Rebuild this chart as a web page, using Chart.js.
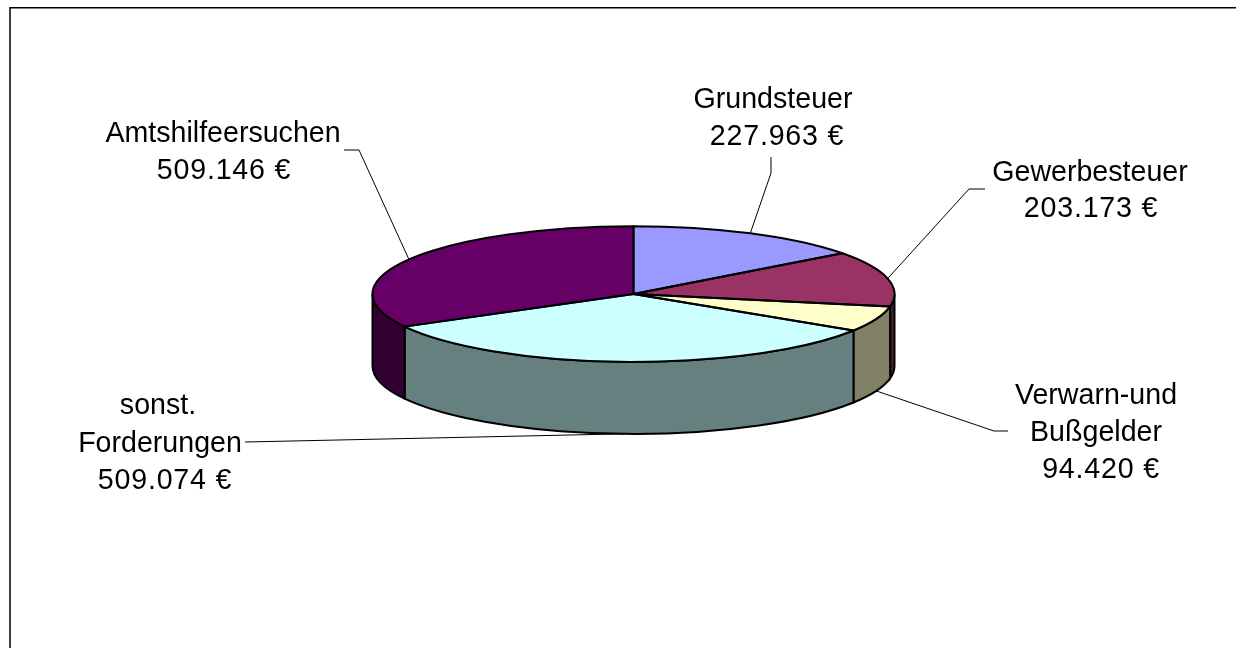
<!DOCTYPE html>
<html lang="de">
<head>
<meta charset="utf-8">
<title>Forderungen</title>
<script src="https://cdn.jsdelivr.net/npm/chart.js@4"></script>
<style>
  html, body { margin: 0; padding: 0; background: #fff; overflow: hidden; }
  canvas { display: block; }
</style>
</head>
<body>
<canvas id="pieChart" width="1236" height="648"></canvas>
<script>
const categories = ['Grundsteuer', 'Gewerbesteuer', 'Verwarn-und Bußgelder', 'sonst. Forderungen', 'Amtshilfeersuchen'];
const amounts = [227963, 203173, 94420, 509074, 509146];
const topColors = ['#9999ff', '#993366', '#ffffcc', '#ccffff', '#660066'];
const sideColors = ['#666699', '#4d1a33', '#808066', '#668080', '#330033'];

// one line of text per entry: x is the centre of that line, y its baseline
const labelLines = [
  [[773, 108], [777, 145]],
  [[1090, 181], [1091, 217]],
  [[1096, 404], [1096, 441], [1101, 478]],
  [[158, 414], [160, 452], [165, 489]],
  [[223, 142], [224, 179]]
];
// leader lines run from these points to the slice edge
const leaderPaths = [
  [[771, 157], [771, 173]],
  [[985, 189], [969, 189]],
  [[1008, 431], [994, 431]],
  [[245, 442]],
  [[344, 150], [359, 150]]
];

const squash = 0.26;
const centerY = 294;
const depth = 72;

function formatAmount(value) {
  return value.toLocaleString('de-DE') + ' €';
}

function labelText(i) {
  return [...categories[i].split(' '), formatAmount(amounts[i])];
}

// same transform for the slices and for the outlines
function applySquash(ctx, arc) {
  ctx.translate(arc.x, centerY);
  ctx.scale(1, squash);
  ctx.translate(-arc.x, -arc.y);
}

const tiltedPie = {
  id: 'tiltedPie',
  beforeDatasetsDraw(chart) {
    const ctx = chart.ctx;
    ctx.save();
    ctx.strokeStyle = '#000';
    ctx.lineWidth = 1.5;
    // frame runs off the right and bottom of the picture
    ctx.strokeRect(10, 7.75, 1300, 700);

    // side wall, only the front half of the ellipse shows
    chart.getDatasetMeta(0).data.forEach((arc, i) => {
      const from = Math.max(arc.startAngle, 0);
      const to = Math.min(arc.endAngle, Math.PI);
      if (to <= from) return;
      const rx = arc.outerRadius;
      const ry = rx * squash;
      ctx.beginPath();
      ctx.ellipse(arc.x, centerY, rx, ry, 0, from, to);
      ctx.ellipse(arc.x, centerY + depth, rx, ry, 0, to, from, true);
      ctx.closePath();
      ctx.fillStyle = sideColors[i];
      ctx.fill();
      ctx.lineWidth = 2;
      ctx.stroke();
    });
    ctx.restore();

    ctx.save();
    applySquash(ctx, chart.getDatasetMeta(0).data[0]);
  },
  afterDatasetsDraw(chart) {
    const ctx = chart.ctx;
    ctx.restore();

    const arcs = chart.getDatasetMeta(0).data;
    ctx.save();
    ctx.strokeStyle = '#000';
    ctx.lineJoin = 'round';
    arcs.forEach(arc => {
      ctx.save();
      applySquash(ctx, arc);
      ctx.beginPath();
      ctx.moveTo(arc.x, arc.y);
      ctx.arc(arc.x, arc.y, arc.outerRadius, arc.startAngle, arc.endAngle);
      ctx.closePath();
      ctx.restore();
      ctx.lineWidth = 2;
      ctx.stroke();
    });

    // leaders end at the middle of each slice, on the wall if it faces us
    ctx.lineWidth = 1;
    arcs.forEach((arc, i) => {
      const mid = (arc.startAngle + arc.endAngle) / 2;
      const sin = Math.sin(mid);
      const endX = arc.x + arc.outerRadius * Math.cos(mid);
      const endY = centerY + arc.outerRadius * squash * sin + (sin > 0 ? depth : 0);
      ctx.beginPath();
      leaderPaths[i].forEach(([x, y], n) => n ? ctx.lineTo(x, y) : ctx.moveTo(x, y));
      ctx.lineTo(endX, endY);
      ctx.stroke();
    });

    ctx.fillStyle = '#000';
    ctx.font = '28.6px "Liberation Sans", Arial, sans-serif';
    ctx.textAlign = 'center';
    ctx.textBaseline = 'alphabetic';
    labelLines.forEach((lines, i) => {
      const text = labelText(i);
      lines.forEach(([x, y], n) => {
        // the amounts sit a bit wider than the names in the reference
        ctx.letterSpacing = n === text.length - 1 ? '0.8px' : '0px';
        ctx.fillText(text[n], x, y);
      });
    });
    ctx.restore();
  }
};

function setupPieChart() {
  const ctx = document.getElementById('pieChart').getContext('2d');
  window.pieChart = new Chart(ctx, {
    type: 'pie',
    data: {
      labels: categories,
      datasets: [{
        data: amounts,
        backgroundColor: topColors,
        borderWidth: 0,
        clip: false
      }]
    },
    options: {
      responsive: false,
      animation: false,
      radius: 261,
      layout: { padding: { left: 372, right: 341, top: 0, bottom: 0 } },
      plugins: {
        legend: { display: false },
        tooltip: { enabled: false }
      }
    },
    plugins: [tiltedPie]
  });
}

document.addEventListener('DOMContentLoaded', setupPieChart);
</script>
</body>
</html>
